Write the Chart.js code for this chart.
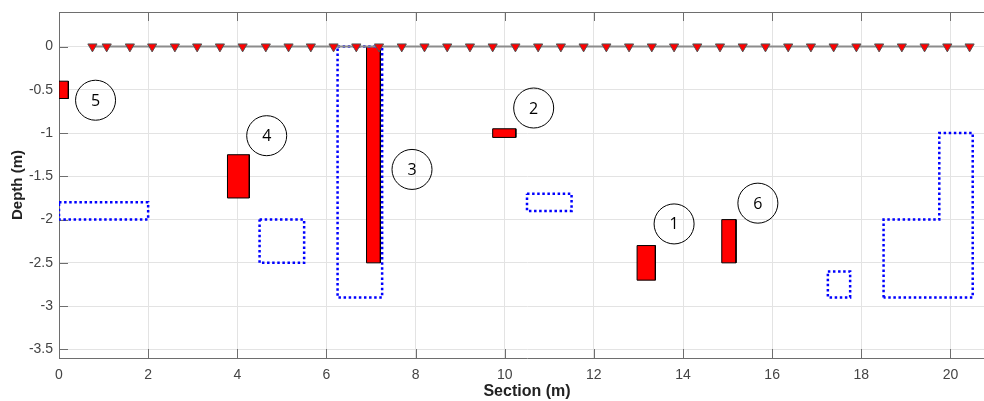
<!DOCTYPE html>
<html>
<head>
<meta charset="utf-8">
<script src="https://cdn.jsdelivr.net/npm/chart.js@4/dist/chart.umd.min.js"></script>
<style>
  html, body { margin: 0; padding: 0; background: #fff; overflow: hidden; width: 984px; height: 401px; }
  canvas { display: block; }
</style>
</head>
<body>
<canvas id="c" width="996" height="401" style="width:996px;height:401px"></canvas>
<script>
// ---- data ----
const xTicks = [0, 2, 4, 6, 8, 10, 12, 14, 16, 18, 20];
const yTicks = [0, -0.5, -1, -1.5, -2, -2.5, -3, -3.5];

// electrode positions along the surface (depth 0)
const electrodeX = [0.75, 1.07, 1.59, 2.09, 2.60, 3.10, 3.61, 4.12, 4.64, 5.15, 5.65,
  6.16, 6.67, 7.18, 7.69, 8.20, 8.71, 9.22, 9.73, 10.24, 10.75, 11.26, 11.77, 12.28, 12.79,
  13.30, 13.80, 14.32, 14.83, 15.34, 15.85, 16.36, 16.87, 17.38, 17.89, 18.40, 18.91, 19.42, 19.93, 20.43];
const electrodeDepth = electrodeX.map(() => 0);

// red (true) objects: x from/to, depth top/bottom
const redX0 = [12.97, 9.73, 6.90, 3.78, 0.00, 14.87];
const redX1 = [13.38, 10.25, 7.21, 4.27, 0.21, 15.19];
const redTop = [-2.30, -0.95, 0.00, -1.25, -0.40, -2.00];
const redBottom = [-2.70, -1.05, -2.50, -1.75, -0.60, -2.50];

// blue dotted (detected) rectangles
const blueX0 = [0.00, 4.50, 6.25, 10.50, 17.25];
const blueX1 = [2.00, 5.50, 7.25, 11.50, 17.75];
const blueTop = [-1.80, -2.00, 0.00, -1.70, -2.60];
const blueBottom = [-2.00, -2.50, -2.90, -1.90, -2.90];
// blue dotted L-shaped outline
const blueLX = [18.5, 18.5, 19.75, 19.75, 20.5, 20.5, 18.5];
const blueLY = [-2.9, -2.0, -2.0, -1.0, -1.0, -2.9, -2.9];

// numbered circle labels
const circleLabels = ['1', '2', '3', '4', '5', '6'];
const circleX = [13.80, 10.65, 7.92, 4.66, 0.82, 15.68];
const circleY = [-2.05, -0.71, -1.42, -1.03, -0.62, -1.81];

// ---- build datasets ----
const FONT = "'Liberation Sans', Arial, Helvetica, sans-serif";
function rectPts(x0, x1, y0, y1) {
  return [{x: x0, y: y0}, {x: x1, y: y0}, {x: x1, y: y1}, {x: x0, y: y1}, {x: x0, y: y0}];
}
const datasets = [];
datasets.push({
  label: 'electrodes', order: 0,
  data: electrodeX.map((x, i) => ({x, y: electrodeDepth[i]})),
  showLine: false, pointStyle: 'triangle', rotation: 180, pointRadius: 5.3,
  pointBackgroundColor: '#ff0000', pointBorderColor: '#555', pointBorderWidth: 1
});
datasets.push({
  label: 'circles', order: 0,
  data: circleX.map((x, i) => ({x, y: circleY[i]})),
  showLine: false, pointStyle: 'circle', pointRadius: 20,
  pointBackgroundColor: 'rgba(255,255,255,0)', pointBorderColor: '#000', pointBorderWidth: 1
});
datasets.push({
  label: 'surface', order: 1,
  data: [{x: electrodeX[0], y: 0}, {x: electrodeX[electrodeX.length - 1], y: 0}],
  showLine: true, borderColor: '#8c8c8c', borderWidth: 2, pointRadius: 0
});
const blueStyle = {showLine: true, borderColor: '#0000ff', borderWidth: 2.5, borderDash: [2.5, 2.6],
  borderCapStyle: 'butt', pointRadius: 0, fill: false, tension: 0, order: 2};
for (let i = 0; i < blueX0.length; i++) {
  datasets.push(Object.assign({label: 'blue' + i,
    data: rectPts(blueX0[i], blueX1[i], blueTop[i], blueBottom[i])}, blueStyle));
}
datasets.push(Object.assign({label: 'blueL',
  data: blueLX.map((x, i) => ({x, y: blueLY[i]}))}, blueStyle));
for (let i = 0; i < redX0.length; i++) {
  datasets.push({
    label: 'red' + i, order: 3,
    data: rectPts(redX0[i], redX1[i], redTop[i], redBottom[i]),
    showLine: true, borderColor: '#000', borderWidth: 1,
    backgroundColor: '#ff0000', fill: 'shape', pointRadius: 0, tension: 0
  });
}

// ---- plugins ----
const framePlugin = {
  id: 'frame',
  beforeDatasetsDraw(chart) {
    const {ctx, chartArea: a, scales: {x, y}} = chart;
    ctx.save();
    ctx.strokeStyle = '#6e6e6e';
    ctx.lineWidth = 1;
    ctx.beginPath();
    ctx.moveTo(a.left, a.top + 0.5); ctx.lineTo(a.right, a.top + 0.5);
    xTicks.forEach(v => {
      const px = Math.round(x.getPixelForValue(v)) + 0.5;
      ctx.moveTo(px, a.bottom); ctx.lineTo(px, a.bottom - 9);
      ctx.moveTo(px, a.top); ctx.lineTo(px, a.top + 9);
    });
    yTicks.forEach(v => {
      const py = Math.round(y.getPixelForValue(v)) + 0.5;
      ctx.moveTo(a.left, py); ctx.lineTo(a.left + 9, py);
    });
    ctx.stroke();
    ctx.restore();
  },
  afterDatasetsDraw(chart) {
    const {ctx, scales: {x, y}} = chart;
    ctx.save();
    ctx.fillStyle = '#000';
    ctx.font = "16px 'Open Sans', sans-serif";
    ctx.textAlign = 'center';
    ctx.textBaseline = 'middle';
    circleLabels.forEach((t, i) => {
      ctx.fillText(t, x.getPixelForValue(circleX[i]), y.getPixelForValue(circleY[i]) + 1);
    });
    ctx.restore();
  }
};

new Chart(document.getElementById('c'), {
  type: 'scatter',
  data: {datasets},
  options: {
    responsive: false, maintainAspectRatio: false, animation: false, devicePixelRatio: 1,
    layout: {autoPadding: false, padding: {top: 12, right: 1, left: 0, bottom: 0}},
    plugins: {legend: {display: false}, tooltip: {enabled: false}},
    elements: {line: {borderJoinStyle: 'miter'}},
    scales: {
      x: {
        type: 'linear', min: 0, max: 21,
        afterBuildTicks: s => { s.ticks = xTicks.map(v => ({value: v})); },
        afterFit: s => { s.height = 43; s.paddingLeft = 0; s.paddingRight = 0; },
        ticks: {color: '#444', font: {family: FONT, size: 14}, padding: 9, maxRotation: 0,
                callback: v => String(v)},
        grid: {color: '#e3e3e3', drawTicks: false},
        border: {display: true, color: '#6e6e6e'},
        title: {display: true, text: 'Section (m)', color: '#222',
                font: {family: FONT, size: 16, weight: 'bold'}, padding: {top: 0, bottom: 0}}
      },
      y: {
        type: 'linear', min: -3.6, max: 0.4,
        afterBuildTicks: s => { s.ticks = yTicks.map(v => ({value: v})); },
        afterFit: s => { s.width = 59; s.paddingTop = 0; s.paddingBottom = 0; },
        ticks: {color: '#444', font: {family: FONT, size: 14}, padding: 6,
                callback: v => String(v)},
        grid: {color: '#e3e3e3', drawTicks: false},
        border: {display: true, color: '#6e6e6e'},
        title: {display: true, text: 'Depth (m)', color: '#222',
                font: {family: FONT, size: 15, weight: 'bold'}, padding: {top: 9, bottom: 0}}
      }
    }
  },
  plugins: [framePlugin]
});
</script>
</body>
</html>
